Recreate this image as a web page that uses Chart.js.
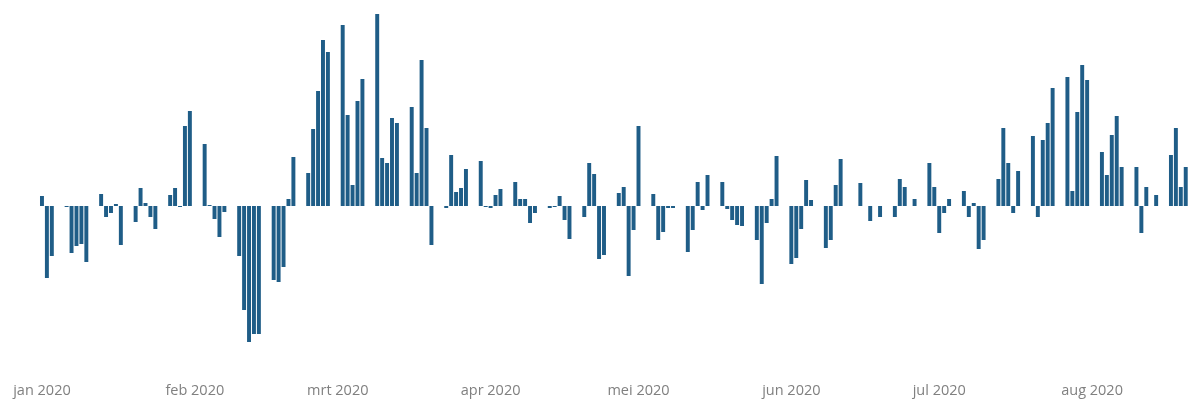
<!DOCTYPE html>
<html>
<head>
<meta charset="utf-8">
<script src="https://cdn.jsdelivr.net/npm/chart.js@4"></script>
<style>
html,body{margin:0;padding:0;background:#fff;}
#wrap{width:1190px;height:400px;}
</style>
</head>
<body>
<div id="wrap"><canvas id="c" width="1190" height="400"></canvas></div>
<script>
// Start date of the daily series and number of days
const startDate = '2020-01-01';
const dayCount = 233;

// Month tick labels (Dutch)
const monthLabels = ['jan 2020','feb 2020','mrt 2020','apr 2020','mei 2020','jun 2020','jul 2020','aug 2020'];

// Daily values (null = no bar, weekends/holidays)
const values = [
  10, -72, -50, null, null, -1, -47,
  -40, -38, -56, null, null, 12, -11,
  -7, 2, -39, null, null, -16, 18,
  3, -11, -23, null, null, 11, 18,
  -1, 80, 95, null, null, 62, 1,
  -13, -31, -6, null, null, -50, -104,
  -136, -128, -128, null, null, -74, -76,
  -61, 7, 49, null, null, 33, 77,
  115, 166, 154, null, null, 181, 91,
  21, 105, 127, null, null, 192, 48,
  43, 88, 83, null, null, 99, 33,
  146, 78, -39, null, null, -2, 51,
  14, 18, 37, null, null, 45, -1,
  -2, 11, 17, null, null, 24, 7,
  7, -17, -7, null, null, -2, -1,
  10, -14, -33, null, null, -11, 43,
  32, -53, -49, null, null, 13, 19,
  -70, -24, 80, null, null, 12, -34,
  -26, -2, -2, null, null, -46, -24,
  24, -4, 31, null, null, 24, -3,
  -14, -19, -20, null, null, -34, -78,
  -17, 7, 50, null, null, -58, -52,
  -23, 26, 6, null, null, -42, -34,
  21, 47, null, null, null, 23, null,
  -15, null, -11, null, null, -11, 27,
  19, null, 7, null, null, 43, 19,
  -27, -7, 7, null, null, 15, -11,
  3, -43, -34, null, null, 27, 78,
  43, -7, 35, null, null, 70, -11,
  66, 83, 118, null, null, 129, 15,
  94, 141, 126, null, null, 54, 31,
  71, 90, 39, null, null, 39, -27,
  19, null, 11, null, null, 51, 78,
  19, 39
];

// Build daily category labels
const categories = [];
{
  const d0 = new Date(startDate + 'T00:00:00Z');
  for (let i = 0; i < dayCount; i++) {
    const d = new Date(d0.getTime() + i * 86400000);
    categories.push(d.toISOString().slice(0, 10));
  }
}

new Chart(document.getElementById('c'), {
  type: 'bar',
  data: {
    labels: categories,
    datasets: [{
      data: values,
      backgroundColor: '#1f5d87',
      borderWidth: 0,
      barPercentage: 0.8,
      categoryPercentage: 1.0
    }]
  },
  options: {
    responsive: false,
    animation: false,
    devicePixelRatio: 1,
    layout: { padding: { left: 39.5, right: 1.8, top: 6, bottom: 0 } },
    plugins: { legend: { display: false }, tooltip: { enabled: false } },
    scales: {
      x: {
        grid: { display: false, drawTicks: false },
        border: { display: false },
        ticks: {
          autoSkip: false,
          maxRotation: 0,
          minRotation: 0,
          padding: 26,
          color: '#808080',
          font: { family: 'Open Sans', size: 14.5 },
          callback: function(v, i) {
            const c = categories[i];
            if (c && c.slice(8) === '01') {
              return monthLabels[parseInt(c.slice(5, 7), 10) - 1];
            }
            return '';
          }
        },
        afterFit: function(s) {
          s.height = 44;
          s.paddingLeft = 0; s.paddingRight = 0;
          s.paddingTop = 0; s.paddingBottom = 0;
        }
      },
      y: {
        display: false,
        min: -150,
        max: 200
      }
    }
  }
});
</script>
</body>
</html>
